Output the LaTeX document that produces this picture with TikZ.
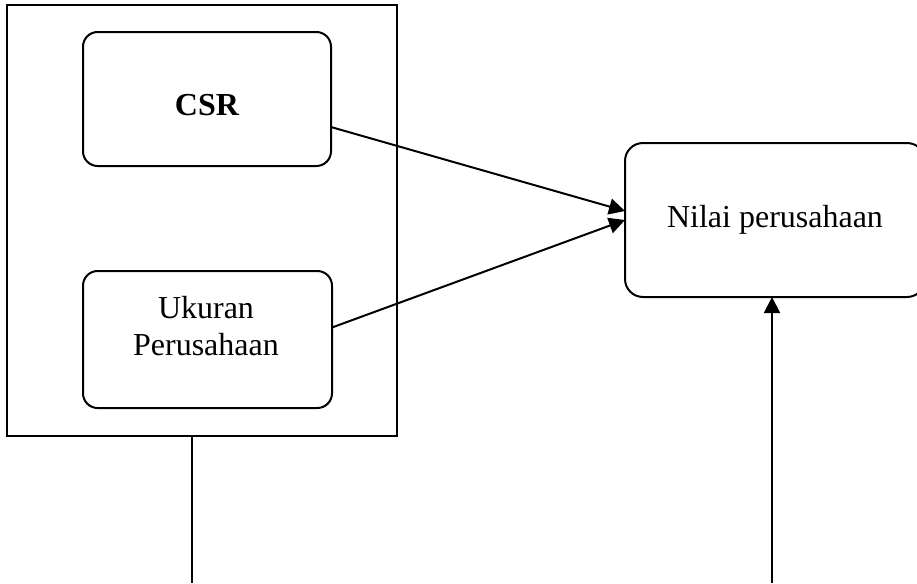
\documentclass[tikz,border=0pt]{standalone}
\usepackage{fontspec}
\setmainfont{Liberation Serif}
\usetikzlibrary{arrows.meta,calc}
\begin{document}
\begin{tikzpicture}[x=0.75pt,y=-0.75pt,line width=1.5pt,
  rbox/.style={draw,rounded corners=11pt,inner sep=0pt,outer sep=0pt},
  lbl/.style={font=\fontsize{24}{28}\selectfont,anchor=base,inner sep=0pt},
  arr/.style={-{Triangle[length=12pt,width=12pt]}}]
\useasboundingbox (0,0) rectangle (917,583);
% frame
\node[draw,inner sep=0pt,outer sep=0pt,minimum width=292.5pt,minimum height=323.25pt] (outer) at (202,220.5) {};
% boxes
\node[rbox,minimum width=186pt,minimum height=100.5pt] (csr) at (207,99) {};
\node[rbox,minimum width=186.75pt,minimum height=102.75pt] (uk) at (207.5,339.5) {};
\node[rbox,rounded corners=13.5pt,minimum width=225pt,minimum height=115.5pt] (nilai) at (775,220) {};
% texts
\node[lbl,font=\fontsize{24}{28}\selectfont\bfseries] (tcsr) at (207,115) {CSR};
\node[lbl] (tuk1) at (206,318) {Ukuran};
\node[lbl] (tuk2) at (206,355) {Perusahaan};
\node[lbl] (tnil) at (775,227) {Nilai perusahaan};
% connectors
\draw[arr] ($(csr.east)+(0,28)$) -- ($(nilai.west)+(0,-9)$);
\draw[arr] ($(uk.east)+(0,-12)$) -- (nilai.west);
\coordinate (bl) at (192,583);
\coordinate (br) at (772,583);
\draw (outer.south -| bl) -- (bl);
\draw[arr] (br) -- (nilai.south -| br);
\end{tikzpicture}
\end{document}
